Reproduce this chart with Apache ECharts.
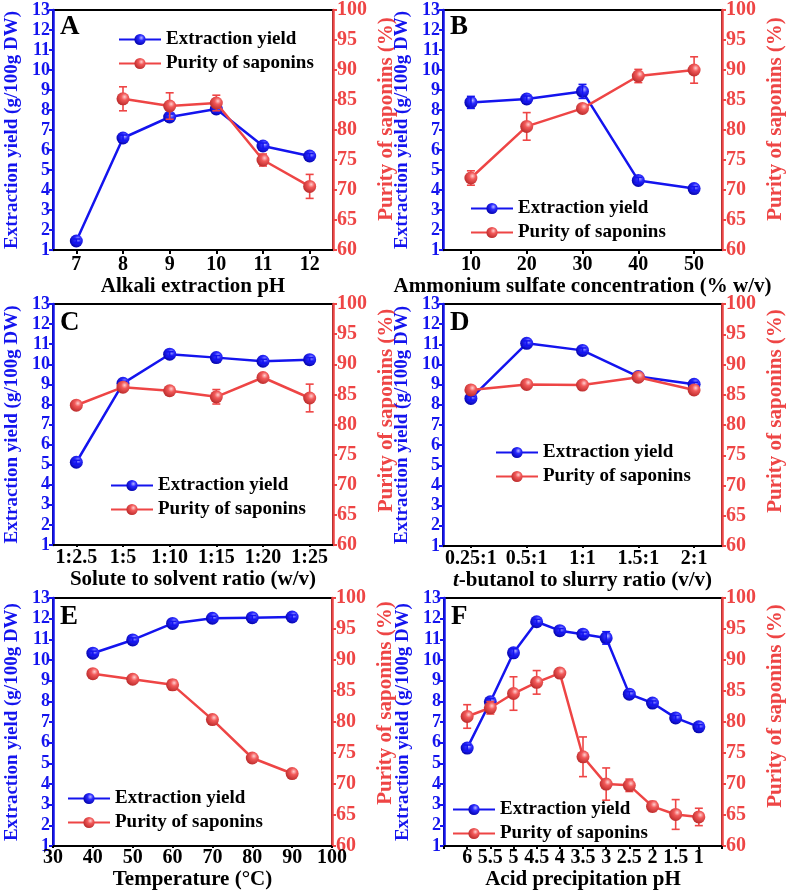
<!DOCTYPE html>
<html><head><meta charset="utf-8">
<script src="https://cdn.jsdelivr.net/npm/echarts@6/dist/echarts.min.js"></script>
<style>html,body{margin:0;padding:0;background:#fff}#c{width:789px;height:891px}</style>
</head><body><div id="c"></div>
<script>
// ---------- DATA ----------
const catsA = ['7','8','9','10','11','12'];
const yieldA = [1.45, 6.6, 7.65, 8.05, 6.2, 5.7];
const yieldErrA = [0.1, 0.15, 0.15, 0.15, 0.15, 0.12];
const purityA = [null, 85.2, 84.0, 84.5, 75.0, 70.6];
const purityErrA = [null, 2.0, 2.2, 1.3, 1.0, 2.0];

const catsB = ['10','20','30','40','50'];
const yieldB = [8.38, 8.55, 8.93, 4.48, 4.07];
const yieldErrB = [0.3, 0.15, 0.35, 0.15, 0.1];
const purityB = [72.0, 80.6, 83.6, 89.0, 90.0];
const purityErrB = [1.2, 2.3, 0.6, 1.1, 2.2];

const catsC = ['1:2.5','1:5','1:10','1:15','1:20','1:25'];
const yieldC = [5.12, 9.05, 10.5, 10.33, 10.15, 10.23];
const yieldErrC = [0.1, 0.1, 0.12, 0.1, 0.1, 0.1];
const purityC = [83.2, 86.2, 85.6, 84.6, 87.8, 84.4];
const purityErrC = [0.6, 0.7, 0.6, 1.2, 0.6, 2.3];

const catsD = ['0.25:1','0.5:1','1:1','1.5:1','2:1'];
const yieldD = [8.32, 11.05, 10.7, 9.4, 9.02];
const yieldErrD = [0.1, 0.12, 0.12, 0.1, 0.1];
const purityD = [85.8, 86.7, 86.6, 87.9, 85.8];
const purityErrD = [0.5, 0.5, 0.5, 0.6, 0.5];

const xE = [40, 50, 60, 70, 80, 90];
const yieldE = [10.33, 10.97, 11.77, 12.02, 12.05, 12.08];
const yieldErrE = [0.1, 0.1, 0.1, 0.1, 0.1, 0.1];
const purityE = [87.8, 86.9, 86.0, 80.4, 74.2, 71.7];
const purityErrE = [0.5, 0.5, 0.8, 0.5, 0.5, 0.5];

const xF = [6, 5.5, 5, 4.5, 4, 3.5, 3, 2.5, 2, 1.5, 1];
const yieldF = [5.74, 7.98, 10.35, 11.85, 11.42, 11.25, 11.07, 8.35, 7.92, 7.2, 6.77];
const yieldErrF = [0.15, 0.15, 0.2, 0.12, 0.1, 0.1, 0.3, 0.12, 0.1, 0.12, 0.1];
const purityF = [80.9, 82.3, 84.6, 86.4, 87.9, 74.4, 70.0, 69.8, 66.4, 65.1, 64.7];
const purityErrF = [1.9, 1.0, 2.7, 1.9, 0.7, 3.2, 2.6, 1.0, 0.8, 2.4, 1.4];

const yieldTicks = {min: 1, max: 13, interval: 1};
const purityTicks = {min: 60, max: 100, interval: 5};

// ---------- STYLE ----------
const FONT = 'Liberation Serif';
const BLUE = '#1414ee';
const RED = '#ee4545';
const ball = (hi, mid, lo) => ({type:'radial', x:0.62, y:0.35, r:0.7,
  colorStops:[{offset:0,color:hi},{offset:0.35,color:mid},{offset:1,color:lo}]});
const BALL_B = ball('#b8b8ff', '#2a2aff', '#0000a8');
const BALL_R = ball('#ffd0d0', '#f25a5a', '#b82828');

const option = {backgroundColor:'#fff', animation:false, grid:[], xAxis:[], yAxis:[], series:[], legend:[], graphic:[]};

function errSeries(i, yIdx, data, color) {
  return {
    type:'custom', xAxisIndex:i, yAxisIndex:yIdx, data, z:4, silent:true,
    encode:{x:0, y:1},
    renderItem(params, api) {
      const x = api.value(0), y = api.value(1), e = api.value(2);
      const hi = api.coord([x, y + e]), lo = api.coord([x, y - e]);
      const w = 4;
      const st = {stroke:color, lineWidth:1.6};
      return {type:'group', children:[
        {type:'line', shape:{x1:hi[0], y1:hi[1], x2:lo[0], y2:lo[1]}, style:st},
        {type:'line', shape:{x1:hi[0]-w, y1:hi[1], x2:hi[0]+w, y2:hi[1]}, style:st},
        {type:'line', shape:{x1:lo[0]-w, y1:lo[1], x2:lo[0]+w, y2:lo[1]}, style:st}
      ]};
    }
  };
}

function panel(i, p) {
  option.grid.push({left:p.left, top:p.top, width:p.width, height:p.height, show:true,
    borderColor:'#000', borderWidth:2, backgroundColor:'transparent'});
  const labelStyle = {fontFamily:FONT, fontWeight:'bold', fontSize:20, color:'#000', margin:p.xMargin};
  const nameStyle = {fontFamily:FONT, fontWeight:'bold', fontSize:21, color:'#000',
    rich:{i:{fontFamily:FONT, fontWeight:'bold', fontStyle:'italic', fontSize:21, color:'#000'}}};
  const axisLine = {show:true, onZero:false, lineStyle:{color:'#000', width:2}};
  const tick = {show:true, length:p.tickLen, lineStyle:{color:'#000', width:2}};
  if (p.cats) {
    option.xAxis.push({type:'category', gridIndex:i, data:p.cats, boundaryGap:true,
      axisLine, axisTick:Object.assign({alignWithLabel:true}, tick),
      axisLabel:Object.assign({interval:0}, labelStyle),
      name:p.xName, nameLocation:'middle', nameGap:p.xNameGap, nameTextStyle:nameStyle, splitLine:{show:false}});
  } else {
    option.xAxis.push(Object.assign({type:'value', gridIndex:i, axisLine, axisTick:tick,
      axisLabel:Object.assign({formatter:p.xFmt, showMinLabel:true, showMaxLabel:true}, labelStyle),
      name:p.xName, nameLocation:'middle', nameGap:p.xNameGap, nameTextStyle:nameStyle, splitLine:{show:false}}, p.xScale));
  }
  option.yAxis.push(Object.assign({type:'value', gridIndex:i, position:'left',
    axisLine:{show:true, lineStyle:{color:BLUE, width:2.5}},
    axisTick:{show:true, length:4, lineStyle:{color:BLUE, width:2}},
    axisLabel:{color:BLUE, fontFamily:FONT, fontWeight:'bold', fontSize:18, margin:3, showMinLabel:true, showMaxLabel:true},
    splitLine:{show:false},
    name:'Extraction yield (g/100g DW)', nameLocation:'middle', nameGap:31,
    nameTextStyle:{color:BLUE, fontFamily:FONT, fontWeight:'bold', fontSize:19}}, yieldTicks));
  option.yAxis.push(Object.assign({type:'value', gridIndex:i, position:'right',
    axisLine:{show:true, lineStyle:{color:RED, width:2.5}},
    axisTick:{show:true, length:4, lineStyle:{color:RED, width:2}},
    axisLabel:{color:RED, fontFamily:FONT, fontWeight:'bold', fontSize:20, margin:4, showMinLabel:true, showMaxLabel:true},
    splitLine:{show:false},
    name:'Purity of saponins (%)', nameLocation:'middle', nameGap:43,
    nameTextStyle:{color:RED, fontFamily:FONT, fontWeight:'bold', fontSize:21, padding:[0,0,0,p.rPad]}}, purityTicks));
  const yl = 2*i, yr = 2*i+1;
  const xs = p.cats ? p.cats.map((c,k)=>k) : p.xs;
  const pts = (ys) => p.cats ? ys.slice() : ys.map((y,k)=>[xs[k], y]);
  const errs = (ys, es) => ys.map((y,k)=> y==null ? null : [xs[k], y, es[k]]).filter(d=>d);
  option.series.push({type:'line', name:'Extraction yield', xAxisIndex:i, yAxisIndex:yl, data:pts(p.yld),
    symbol:'circle', symbolSize:13, lineStyle:{color:BLUE, width:2.5}, itemStyle:{color:BALL_B}, z:3});
  option.series.push(errSeries(i, yl, errs(p.yld, p.yldErr), BLUE));
  option.series.push({type:'line', name:'Purity of saponins', xAxisIndex:i, yAxisIndex:yr, data:pts(p.pur),
    symbol:'circle', symbolSize:13, lineStyle:{color:RED, width:2.5}, itemStyle:{color:BALL_R}, z:5});
  option.series.push(errSeries(i, yr, errs(p.pur, p.purErr), RED));
  option.legend.push({orient:'vertical', left:p.lgLeft, top:p.lgTop, padding:0, itemWidth:42, itemHeight:14, itemGap:5,
    selectedMode:false, data:['Extraction yield','Purity of saponins'],
    textStyle:{fontFamily:FONT, fontWeight:'bold', fontSize:19, color:'#000'}});
  option.graphic.push({type:'text', left:p.left+7, top:p.top+6,
    style:{text:p.letter, fontFamily:FONT, fontWeight:'bold', fontSize:27, fill:'#000'}});
}

panel(0, {letter:'A', left:53, top:8, width:280, height:242, cats:catsA, yld:yieldA, yldErr:yieldErrA, pur:purityA, purErr:purityErrA,
  xName:'Alkali extraction pH', xNameGap:25, xMargin:5, tickLen:4, rPad:22, lgLeft:118, lgTop:30});
panel(1, {letter:'B', left:443, top:8, width:279, height:242, cats:catsB, yld:yieldB, yldErr:yieldErrB, pur:purityB, purErr:purityErrB,
  xName:'Ammonium sulfate concentration (% w/v)', xNameGap:25, xMargin:5, tickLen:4, rPad:22, lgLeft:470, lgTop:199});
panel(2, {letter:'C', left:53, top:304, width:280, height:241, cats:catsC, yld:yieldC, yldErr:yieldErrC, pur:purityC, purErr:purityErrC,
  xName:'Solute to solvent ratio (w/v)', xNameGap:18, xMargin:3, tickLen:2, rPad:28, lgLeft:110, lgTop:476});
panel(3, {letter:'D', left:443, top:304, width:279, height:242, cats:catsD, yld:yieldD, yldErr:yieldErrD, pur:purityD, purErr:purityErrD,
  xName:'{i|t}-butanol to slurry ratio (v/v)', xNameGap:21, xMargin:3, tickLen:2, rPad:28, lgLeft:495, lgTop:443});
panel(4, {letter:'E', left:53, top:598, width:279, height:249, xs:xE, xScale:{min:30, max:100, interval:10}, yld:yieldE, yldErr:yieldErrE, pur:purityE, purErr:purityErrE,
  xName:'Temperature (°C)', xNameGap:17, xMargin:2, tickLen:2, rPad:38, lgLeft:67, lgTop:789});
panel(5, {letter:'F', left:444, top:598, width:278, height:249, xs:xF, xScale:{min:0.5, max:6.5, interval:0.5, inverse:true},
  xFmt:(v)=> (v < 0.75 || v > 6.25) ? '' : String(v), yld:yieldF, yldErr:yieldErrF, pur:purityF, purErr:purityErrF,
  xName:'Acid precipitation pH', xNameGap:18, xMargin:2, tickLen:3, rPad:32, lgLeft:452, lgTop:800});

const chart = echarts.init(document.getElementById('c'), null, {renderer:'canvas'});
chart.setOption(option);
</script></body></html>
